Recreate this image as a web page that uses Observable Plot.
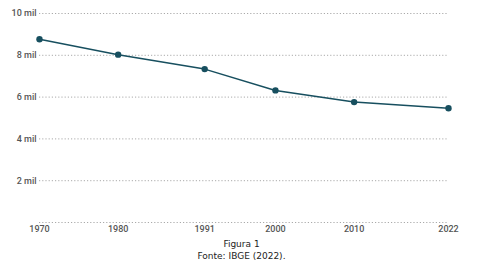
<!DOCTYPE html>
<html>
<head>
<meta charset="utf-8">
<script src="https://cdn.jsdelivr.net/npm/d3@7"></script>
<script src="https://cdn.jsdelivr.net/npm/@observablehq/plot@0.6"></script>
<style>
  body { margin: 0; background: #fff; }
  #caption { width: 483px; text-align: center; font-family: "DejaVu Sans", sans-serif; font-size: 9px; line-height: 12px; color: #222; }
</style>
</head>
<body>
<div id="chart"></div>
<div id="caption"><div>Figura 1</div><div>Fonte: IBGE (2022).</div></div>
<script>
const years = [1970, 1980, 1991, 2000, 2010, 2022];
const values = [8.77, 8.03, 7.34, 6.32, 5.76, 5.47];
const yTicks = [0, 2, 4, 6, 8, 10];

const data = years.map((y, i) => ({year: y, value: values[i]}));

const chart = Plot.plot({
  width: 497,
  height: 238,
  marginLeft: 39,
  marginRight: 49,
  marginTop: 13,
  marginBottom: 16,
  style: {fontFamily: "Roboto, sans-serif", fontSize: "9px", color: "#555", background: "#fff"},
  x: {domain: [1970, 2022], ticks: years, tickFormat: "d", tickSize: 0, tickPadding: 3, label: null},
  y: {domain: [0, 10], ticks: yTicks, tickFormat: d => d === 0 ? "" : d + " mil", tickSize: 0, tickPadding: 3, label: null},
  marks: [
    Plot.ruleY(yTicks, {stroke: "#aaa", strokeDasharray: "1.2,2", strokeWidth: 1}),
    Plot.axisX({ticks: years, tickFormat: "d", tickSize: 0, tickPadding: 3, fontWeight: 500, label: null}),
    Plot.axisY({ticks: yTicks, tickFormat: d => d === 0 ? "" : d + " mil", tickSize: 0, tickPadding: 3, fontWeight: 500, label: null}),
    Plot.line(data, {x: "year", y: "value", stroke: "#174f5f", strokeWidth: 1.5}),
    Plot.dot(data, {x: "year", y: "value", fill: "#174f5f", r: 3.2})
  ]
});
document.getElementById("chart").appendChild(chart);
</script>
</body>
</html>
